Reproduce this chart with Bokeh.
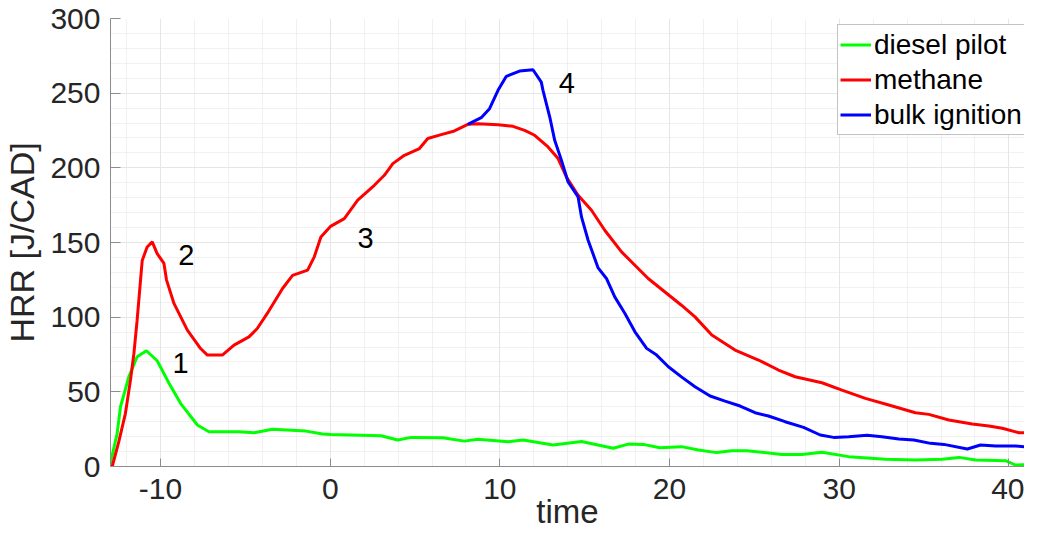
from bokeh.plotting import figure
from bokeh.models import Range1d, Legend, LegendItem, SingleIntervalTicker, Label, PrintfTickFormatter
from bokeh.embed import file_html
from bokeh.resources import INLINE

# ---------------- data ----------------
diesel_t = [-13.0, -12.56, -12.36, -11.87, -11.38, -10.83, -10.2, -9.5, -8.82, -7.83, -7.15, -5.37,
            -4.49, -3.4, -1.43, -0.45, 0.04, 2.99, 3.98, 4.77, 6.64, 7.91, 8.7, 10.48, 11.36, 13.14,
            14.81, 16.68, 17.57, 18.45, 19.43, 20.7, 21.7, 22.78, 23.67, 24.55, 26.62, 27.8, 28.98,
            30.56, 32.72, 34.5, 36.07, 37.06, 38.04, 39.8, 40.4, 41.98]
diesel_hrr = [0, 22, 40, 60, 73.5, 77.5, 70.8, 55.7, 42.3, 27.8, 23.3, 23.3,
              22.6, 24.9, 23.7, 21.7, 21.5, 20.6, 17.7, 19.5, 19.3, 17, 18.2, 16.6, 17.7, 14.4,
              16.8, 12.2, 15, 14.8, 12.6, 13.3, 11, 9.3, 10.6, 10.6, 8.1, 8.1, 9.5,
              6.6, 4.8, 4.3, 4.8, 6.1, 4.3, 3.9, 1, 1.7]

methane_t = [-12.85, -12.46, -12.07, -11.77, -11.57, -11.38, -11.18, -11.08, -10.79, -10.49, -10.2,
             -9.8, -9.65, -9.21, -8.42, -7.64, -7.24, -6.36, -5.67, -4.79, -4.3, -3.71, -2.81, -2.22,
             -1.33, -0.94, -0.55, 0.04, 0.83, 1.62, 2.6, 3.19, 3.69, 4.37, 5.26, 5.75, 6.54, 7.32,
             8.11, 8.7, 9.89, 10.77, 11.46, 12.05, 12.84, 13.43, 13.92, 14.61, 15.4, 16.18, 17.17,
             18.74, 20.7, 21.5, 22.49, 23.86, 25.24, 26.42, 27.4, 28.98, 30.16, 31.54, 32.92, 34.49,
             35.28, 36.46, 37.84, 38.82, 39.61, 40.6, 41.37, 41.98]
methane_hrr = [0, 16.6, 35.6, 58, 75.7, 98, 124.8, 138, 147, 150.4, 142.6,
               136, 125, 109.2, 91.3, 79, 74.6, 74.6, 81.3, 86.8, 92.4, 102.5, 119.2, 128,
               131.5, 140.4, 153.7, 161, 166, 178.3, 188.3, 195, 202.8, 208.4, 212.9, 219.6, 222.2, 224.7,
               229.1, 229.6, 228.9, 227.8, 225.1, 221.8, 214, 206.2, 193.9, 181.6, 171.6, 158.2, 143.7,
               125.9, 108, 100.2, 88, 78, 71.3, 64.6, 60.1, 56.1, 51.2, 45.6, 41.2, 36,
               34.9, 31.1, 28.4, 27.1, 25.6, 22.6, 22.6, 21.5]

bulk_t = [8.11, 8.9, 9.39, 9.89, 10.38, 11.16, 11.95, 12.44, 12.54, 12.94, 13.23, 13.63, 14.02,
          14.61, 14.81, 15.2, 15.79, 16.28, 16.77, 17.37, 17.96, 18.65, 19.24, 19.93, 20.7, 21.5,
          22.39, 23.27, 24.16, 25.04, 25.83, 26.81, 27.9, 28.88, 29.67, 30.56, 31.64, 32.52, 33.51,
          34.4, 35.38, 36.17, 37.55, 38.33, 39.22, 40.4, 41.98]
bulk_hrr = [229.1, 233.6, 239.6, 251.9, 261.3, 264.8, 265.7, 257.4, 251.9, 234, 218.4, 205, 190.5,
            180.5, 167.1, 151.5, 133, 125.9, 113.6, 102.5, 90.2, 79.1, 74.6, 66.8, 60, 53.4,
            47.2, 43.8, 40.5, 36, 33.8, 30, 26.2, 21.1, 19.5, 19.9, 20.9, 19.9, 18.4,
            17.7, 15.5, 14.8, 11.7, 14.4, 13.7, 13.7, 12.2]

series_names = ["diesel pilot", "methane", "bulk ignition"]
series_colors = ["#00ff00", "#ff0000", "#0000ff"]

note_texts = ["1", "2", "3", "4"]
note_x = [-8.82, -8.48, 2.09, 13.95]
note_y = [69.0, 141.5, 152.9, 256.8]

FONT = "Liberation Sans"

p = figure(width=1024, height=540, output_backend="svg", toolbar_location=None,
           x_range=Range1d(-12.95, 40.92), y_range=Range1d(0, 300),
           min_border_left=110, min_border_right=0, min_border_top=18, min_border_bottom=74)
p.outline_line_color = None
p.background_fill_color = "white"
p.border_fill_color = "white"

r1 = p.line(diesel_t, diesel_hrr, line_color=series_colors[0], line_width=3)
r2 = p.line(methane_t, methane_hrr, line_color=series_colors[1], line_width=3)
r3 = p.line(bulk_t, bulk_hrr, line_color=series_colors[2], line_width=3)

p.xaxis.ticker = SingleIntervalTicker(interval=10, num_minor_ticks=5)
p.yaxis.ticker = SingleIntervalTicker(interval=50, num_minor_ticks=5)
p.xaxis.formatter = PrintfTickFormatter(format="%d")
p.yaxis.formatter = PrintfTickFormatter(format="%d")

for ax in (p.xaxis[0], p.yaxis[0]):
    ax.axis_line_color = "#8c8c8c"
    ax.axis_line_width = 1
    ax.major_tick_line_color = "#8c8c8c"
    ax.major_tick_out = 0
    ax.minor_tick_in = 0
    ax.minor_tick_out = 0
    ax.major_label_text_font = FONT
    ax.major_label_text_font_size = "30px"
    ax.major_label_text_color = "#262626"
    ax.axis_label_text_font = FONT
    ax.axis_label_text_font_style = "normal"
    ax.axis_label_text_color = "#262626"

p.xaxis.axis_label_text_font_size = "33px"
p.yaxis.axis_label_text_font_size = "34px"
p.xaxis.major_tick_in = 8
p.yaxis.major_tick_in = 10
p.xaxis.major_label_standoff = 12
p.yaxis.major_label_standoff = 10
p.xaxis.axis_label = "time"
p.yaxis.axis_label = "HRR [J/CAD]"
p.xaxis.axis_label_standoff = -9
p.yaxis.axis_label_standoff = 6

for g in (p.xgrid[0], p.ygrid[0]):
    g.grid_line_color = "#e6e6e6"
    g.grid_line_width = 1
    g.minor_grid_line_color = "#e3e3e3"
    g.minor_grid_line_dash = "1 1"
    g.minor_grid_line_width = 1

for t, x, y in zip(note_texts, note_x, note_y):
    p.add_layout(Label(x=x, y=y, text=t, text_font=FONT, text_font_size="29px",
                       text_align="center", text_baseline="alphabetic", text_color="black"))

legend = Legend(items=[LegendItem(label=series_names[0], renderers=[r1]),
                       LegendItem(label=series_names[1], renderers=[r2]),
                       LegendItem(label=series_names[2], renderers=[r3])],
                location=(727, 331))
legend.label_text_font = FONT
legend.label_text_font_size = "28px"
legend.label_text_color = "black"
legend.glyph_width = 31
legend.glyph_height = 35
legend.label_height = 35
legend.label_standoff = 3
legend.padding = 2
legend.spacing = 0
legend.margin = 0
legend.border_line_color = "#888888"
legend.border_line_width = 1
legend.background_fill_color = "white"
legend.background_fill_alpha = 1
p.add_layout(legend)

open("out.html", "w").write(file_html(p, INLINE))
